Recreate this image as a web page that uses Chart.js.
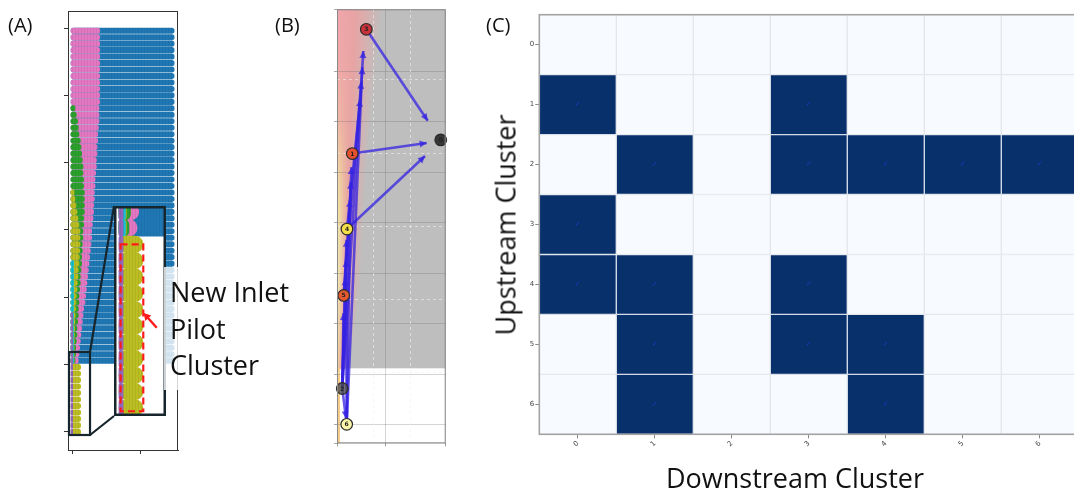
<!DOCTYPE html>
<html>
<head>
<meta charset="utf-8">
<title>Cluster transitions</title>
<script src="https://cdn.jsdelivr.net/npm/chart.js@4.4.1/dist/chart.umd.min.js"></script>
<style>
  html, body { margin:0; padding:0; width:1074px; height:490px; overflow:hidden; background:#fff; }
  .pane { position:absolute; }
  .txt { position:absolute; font-family:'Open Sans', sans-serif; color:#111; white-space:nowrap; }
  .panel-tag { font-size:20px; line-height:20px; }
  .axis-title { font-size:27px; line-height:27px; }
  #note { position:absolute; left:164px; top:267px; width:130px; height:123px; background:rgba(255,255,255,0.8); }
  #note div { position:absolute; left:6px; font-family:'Open Sans', sans-serif; font-size:27px; line-height:27px; color:#111; white-space:nowrap; }
</style>
</head>
<body>
<div class="pane" style="left:0;top:0;width:300px;height:490px"><canvas id="chartA"></canvas></div>
<div class="pane" id="insetBox" style="left:114px;top:206px;width:52px;height:210px"><canvas id="chartInset"></canvas></div>
<div class="pane" style="left:300px;top:0;width:170px;height:490px"><canvas id="chartB"></canvas></div>
<div class="pane" style="left:480px;top:0;width:620px;height:490px"><canvas id="chartC"></canvas></div>

<div class="txt panel-tag" style="left:8px;top:15px">(A)</div>
<div class="txt panel-tag" style="left:275px;top:15px">(B)</div>
<div class="txt panel-tag" style="left:486px;top:15px">(C)</div>
<div class="txt axis-title" style="left:504.7px;top:225px;transform:translate(-50%,-50%) rotate(-90deg)">Upstream Cluster</div>
<div class="txt axis-title" style="left:795px;top:463.5px;transform:translateX(-50%)">Downstream Cluster</div>
<div id="note">
  <div style="top:11px">New Inlet</div>
  <div style="top:47.5px">Pilot</div>
  <div style="top:84px">Cluster</div>
</div>

<script>
Chart.defaults.font.family = "'DejaVu Sans', sans-serif";
Chart.defaults.animation = false;

// ---------------- Panel A: cluster membership along each time step ----------------
// Each row is one time step; each cluster occupies a run of particle positions.
const rows = Array.from({ length: 63 }, (_, i) => i);
const rowStart = -3;                       // left edge of the first particle marker
const yTicksA = [-0.4, 10, 20.4, 30.8, 41.2, 51.6, 62];
const xTicksA = [0, 100];

// right end of each cluster's run, starting at the given first row
const purpleFirst = 44;
const purpleEnd = [-0.5,-0.5,-0.5,-0.5,-0.5,-0.5,-0.5,-0.5,-0.5,-0.5,-0.5,-0.5,-0.5,-0.5,-0.5,-0.5,-0.5,-0.5,-0.5];
const cyanFirst = 36;
const cyanEnd = [1,1,1,1,1,1,1,1,1,1,1,1,1,1,1,1];
const yellowFirst = 25;
const yellowEnd = [1.5,3,4.5,6,7.5,9,10.5,10.5,10.5,10,9.5,9,8,7.5,6.5,6,5,4.5,4,3.5,3,2.5,2,2,1.5,1.5,1.5,
                   11.5,11.5,11.5,11.5,11.5,11.5,11.5,11.5,11.5,11.5,11.5];
const greenFirst = 12;
const greenEnd = [3,5,7,8,9,11,12,13,14,15,15,16,16,17,17,17,17,16,16,15,
                  15,14,14,13,13,12,11,11,10,9,9,8,8,7,6,6,5,4,4,3];
const pinkFirst = 0;
const pinkEnd = [40,40,40,40,40,40,40,40,40,40,40,40,39,39,39,38,37,37,36,36,35,35,34,33,33,32,
                 32,31,31,30,29,28,28,27,26,25,24,23,22,21,20,19,18,16,15,14,13,12,11,10,9,8];
const blueFirst = 0;
const blueEnd = [151,151,151,151,151,151,151,151,151,151,151,151,151,
                 151,151,151,151,151,151,151,151,151,151,151,151,151,
                 151,151,151,151,151,151,151,151,151,151,151,151,151,
                 151,151,151,151,151,151,151,151,151,151,151,151,151];

// zoomed window shown in the inset
const insetX = [-5.97, 25.4];
const insetRows = [49.66, 62.49];
const pilotBoxX = [-2.0, 11.7];
const pilotBoxRows = [52.0, 62.2];
const pilotArrow = { from: [19.8, 57.1], to: [11.9, 56.2] };

function dotted(color) {
  const c = document.createElement('canvas');
  c.width = 3; c.height = 3;
  const g = c.getContext('2d');
  g.fillStyle = color; g.fillRect(0, 0, 3, 3);
  g.fillStyle = 'rgba(0,0,0,0.06)'; g.fillRect(0, 0, 1, 3);
  return g.createPattern(c, 'repeat');
}

function runBars(first, ends) {
  return ends.map((e, k) => ({ y: rows[first + k], x: [rowStart, e] }));
}

function clusterDatasets(thickness) {
  const spec = [
    ['purple', '#9467bd', purpleFirst, purpleEnd],
    ['cyan',   '#17becf', cyanFirst,   cyanEnd],
    ['olive',  '#bcbd22', yellowFirst, yellowEnd],
    ['green',  '#2ca02c', greenFirst,  greenEnd],
    ['pink',   '#e377c2', pinkFirst,   pinkEnd],
    ['blue',   '#1f77b4', blueFirst,   blueEnd]
  ];
  return spec.map(([label, color, first, ends]) => ({
    label,
    data: runBars(first, ends),
    backgroundColor: dotted(color),
    borderWidth: 0,
    borderSkipped: false,
    borderRadius: thickness / 2,
    barThickness: thickness,
    grouped: false
  }));
}

const frameA = {
  id: 'frameA',
  afterDraw(chart) {
    const { ctx, chartArea: a, scales } = chart;
    ctx.save();
    ctx.strokeStyle = '#333'; ctx.lineWidth = 1;
    ctx.strokeRect(a.left + 0.5, a.top + 0.5, a.right - a.left - 1, a.bottom - a.top);
    // region that the inset enlarges
    const x0 = scales.x.getPixelForValue(insetX[0]);
    const x1 = scales.x.getPixelForValue(insetX[1]);
    const y0 = scales.y.getPixelForValue(insetRows[0]);
    const y1 = scales.y.getPixelForValue(insetRows[1]);
    ctx.strokeStyle = '#17252d'; ctx.lineWidth = 2.2;
    ctx.strokeRect(x0, y0, x1 - x0, y1 - y0);
    const box = document.getElementById('insetBox');
    const ix = box.offsetLeft, iy = box.offsetTop, ih = box.offsetHeight;
    ctx.beginPath();
    ctx.moveTo(x1, y0); ctx.lineTo(ix, iy);
    ctx.moveTo(x1, y1); ctx.lineTo(ix, iy + ih);
    ctx.stroke();
    ctx.restore();
  }
};

new Chart(document.getElementById('chartA'), {
  type: 'bar',
  data: { datasets: clusterDatasets(5.4) },
  options: {
    indexAxis: 'y',
    responsive: true, maintainAspectRatio: false,
    layout: { padding: { left: 58, top: 11, right: 122, bottom: 30 } },
    plugins: { legend: { display: false }, tooltip: { enabled: false } },
    scales: {
      x: {
        type: 'linear', min: -7.46, max: 156.7,
        afterBuildTicks: s => { s.ticks = xTicksA.map(v => ({ value: v })); },
        afterFit: s => { s.height = 10; },
        ticks: { display: false },
        grid: { drawOnChartArea: false, tickLength: 4, tickColor: '#333' },
        border: { color: '#333' }
      },
      y: {
        type: 'linear', reverse: true, min: -3.045, max: 64.81, offset: false,
        afterBuildTicks: s => { s.ticks = yTicksA.map(v => ({ value: v })); },
        afterFit: s => { s.width = 10; },
        ticks: { display: false },
        grid: { drawOnChartArea: false, tickLength: 4, tickColor: '#333', offset: false },
        border: { color: '#333' }
      }
    }
  },
  plugins: [frameA]
});

const insetDecor = {
  id: 'insetDecor',
  beforeDraw(chart) {
    const { ctx, width, height } = chart;
    ctx.save(); ctx.fillStyle = '#fff'; ctx.fillRect(0, 0, width, height); ctx.restore();
  },
  afterDatasetsDraw(chart) {
    const { ctx, scales: { x, y } } = chart;
    ctx.save();
    ctx.strokeStyle = '#ff1a1a'; ctx.lineWidth = 2.2; ctx.setLineDash([7, 4]);
    const rx0 = x.getPixelForValue(pilotBoxX[0]), rx1 = x.getPixelForValue(pilotBoxX[1]);
    const ry0 = y.getPixelForValue(pilotBoxRows[0]), ry1 = y.getPixelForValue(pilotBoxRows[1]);
    ctx.strokeRect(rx0, ry0, rx1 - rx0, ry1 - ry0);
    ctx.setLineDash([]);
    const ax0 = x.getPixelForValue(pilotArrow.from[0]), ay0 = y.getPixelForValue(pilotArrow.from[1]);
    const ax1 = x.getPixelForValue(pilotArrow.to[0]), ay1 = y.getPixelForValue(pilotArrow.to[1]);
    const ang = Math.atan2(ay1 - ay0, ax1 - ax0);
    ctx.lineWidth = 2.4;
    ctx.beginPath(); ctx.moveTo(ax0, ay0);
    ctx.lineTo(ax1 - 4 * Math.cos(ang), ay1 - 4 * Math.sin(ang)); ctx.stroke();
    ctx.fillStyle = '#ff1a1a';
    ctx.beginPath();
    ctx.moveTo(ax1, ay1);
    ctx.lineTo(ax1 - 7 * Math.cos(ang) + 4 * Math.sin(ang), ay1 - 7 * Math.sin(ang) - 4 * Math.cos(ang));
    ctx.lineTo(ax1 - 7 * Math.cos(ang) - 4 * Math.sin(ang), ay1 - 7 * Math.sin(ang) + 4 * Math.cos(ang));
    ctx.closePath(); ctx.fill();
    ctx.restore();
  },
  afterDraw(chart) {
    const { ctx, width, height } = chart;
    ctx.save(); ctx.strokeStyle = '#17252d'; ctx.lineWidth = 2.5;
    ctx.strokeRect(1.25, 1.25, width - 2.5, height - 2.5); ctx.restore();
  }
};

new Chart(document.getElementById('chartInset'), {
  type: 'bar',
  data: { datasets: clusterDatasets(16.5) },
  options: {
    indexAxis: 'y',
    responsive: true, maintainAspectRatio: false,
    layout: { padding: 0 },
    plugins: { legend: { display: false }, tooltip: { enabled: false } },
    scales: {
      x: { type: 'linear', min: insetX[0], max: insetX[1], display: false },
      y: { type: 'linear', reverse: true, min: insetRows[0], max: insetRows[1], offset: false, display: false }
    }
  },
  plugins: [insetDecor]
});

// ---------------- Panel B: cluster transition graph ----------------
const nodeIds = ['0', '1', '2', '3', '4', '5', '6'];
const nodeX = [2.19, 0.267, 0.05, 0.572, 0.152, 0.08, 0.146];
const nodeY = [5.64, 5.37, 0.717, 7.83, 3.875, 2.56, 0.008];
const nodeColors = ['#363636', '#e5502e', 'rgba(75,75,75,0.8)', '#c8323a', '#f3df48', '#e45a30', '#fbf6a8'];
// transitions: source node and arrow tip
const edgeFrom = [3, 1, 4, 2, 6, 5, 4, 2, 6, 5, 2, 6, 2, 2, 2];
const edgeTipX = [1.907, 1.885, 1.848, 0.507, 0.485, 0.463, 0.441, 0.25, 0.233, 0.217, 0.141, 0.13, 0.115, 0.076, 0.13];
const edgeTipY = [6.02, 5.58, 5.32, 7.40, 7.08, 6.79, 6.44, 5.10, 4.81, 4.45, 3.66, 3.26, 2.90, 2.21, 0.13];
const shadedTop = 1.117;          // upper shaded field ends here
const dashedX = [0.724, 1.537];
const dashedY = [1.03, 2.48, 3.92, 5.37, 6.83];
// warm glow along the left edge: [y, left colour, band width px]
const glowStops = [
  [8.226, [255, 160, 168], 46],
  [7.22,  [255, 165, 165], 40],
  [6.03,  [255, 185, 160], 34],
  [5.04,  [255, 225, 150], 30],
  [4.05,  [255, 250, 160], 27],
  [2.86,  [255, 252, 175], 24],
  [1.87,  [255, 240, 160], 18],
  [1.117, [255, 220, 140], 12]
];

const fieldB = {
  id: 'fieldB',
  beforeDraw(chart) {
    const { ctx, chartArea: a, scales: { y } } = chart;
    ctx.save();
    ctx.fillStyle = '#fff';
    ctx.fillRect(a.left, a.top, a.right - a.left, a.bottom - a.top);
    const yb = y.getPixelForValue(shadedTop);
    ctx.fillStyle = '#bebebe';
    ctx.fillRect(a.left, a.top, a.right - a.left, yb - a.top);
    const px = glowStops.map(s => y.getPixelForValue(s[0]));
    for (let py = a.top; py < yb; py += 1) {
      let k = 0;
      while (k < px.length - 2 && py > px[k + 1]) k++;
      const t = Math.min(1, Math.max(0, (py - px[k]) / (px[k + 1] - px[k])));
      const c = glowStops[k][1].map((v, j) => Math.round(v + (glowStops[k + 1][1][j] - v) * t));
      const w = glowStops[k][2] + (glowStops[k + 1][2] - glowStops[k][2]) * t;
      const g = ctx.createLinearGradient(a.left, 0, a.left + w, 0);
      g.addColorStop(0, `rgb(${c[0]},${c[1]},${c[2]})`);
      g.addColorStop(0.4, 'rgba(252,150,150,0.8)');
      g.addColorStop(1, 'rgba(250,160,160,0)');
      ctx.fillStyle = g;
      ctx.fillRect(a.left, py, w, 1);
    }
    ctx.fillStyle = 'rgba(245,200,125,0.9)';
    ctx.fillRect(a.left, yb, 3, a.bottom - yb);
    ctx.restore();
  },
  afterDatasetDraw(chart, args) {
    const ds = chart.data.datasets[args.index];
    if (!ds.isEdge) return;
    const pts = args.meta.data;
    const p0 = pts[0], p1 = pts[1];
    const ang = Math.atan2(p1.y - p0.y, p1.x - p0.x);
    const { ctx } = chart;
    ctx.save();
    ctx.fillStyle = ds.borderColor;
    ctx.beginPath();
    ctx.moveTo(p1.x, p1.y);
    ctx.lineTo(p1.x - 7 * Math.cos(ang) + 3.5 * Math.sin(ang), p1.y - 7 * Math.sin(ang) - 3.5 * Math.cos(ang));
    ctx.lineTo(p1.x - 7 * Math.cos(ang) - 3.5 * Math.sin(ang), p1.y - 7 * Math.sin(ang) + 3.5 * Math.cos(ang));
    ctx.closePath(); ctx.fill();
    ctx.restore();
  },
  afterDatasetsDraw(chart) {
    const { ctx } = chart;
    const nodesIdx = chart.data.datasets.findIndex(d => d.isNode);
    const meta = chart.getDatasetMeta(nodesIdx);
    ctx.save();
    ctx.font = '600 6px "DejaVu Sans"';
    ctx.fillStyle = '#222'; ctx.textAlign = 'center'; ctx.textBaseline = 'middle';
    meta.data.forEach((p, i) => ctx.fillText(nodeIds[i], p.x, p.y + 0.5));
    ctx.restore();
  },
  afterDraw(chart) {
    const { ctx, chartArea: a } = chart;
    ctx.save(); ctx.strokeStyle = '#8a8a8a'; ctx.lineWidth = 1;
    ctx.strokeRect(a.left + 0.5, a.top + 0.5, a.right - a.left - 1, a.bottom - a.top - 1);
    ctx.restore();
  }
};

const edgeSets = edgeFrom.map((f, i) => ({
  isEdge: true,
  data: [{ x: nodeX[f], y: nodeY[f] }, { x: edgeTipX[i], y: edgeTipY[i] }],
  showLine: true, pointRadius: 0,
  borderColor: 'rgba(52,34,225,0.75)', borderWidth: 2.6,
  order: 1
}));

new Chart(document.getElementById('chartB'), {
  type: 'scatter',
  data: {
    datasets: [
      ...edgeSets,
      {
        isNode: true,
        data: nodeX.map((x, i) => ({ x, y: nodeY[i] })),
        backgroundColor: nodeColors, borderColor: '#2a2a2a', borderWidth: 1.2,
        pointRadius: 5.8, order: 0, clip: false
      }
    ]
  },
  options: {
    responsive: true, maintainAspectRatio: false,
    layout: { padding: { left: 0, top: 9.3, right: 24.3, bottom: 0 } },
    plugins: { legend: { display: false }, tooltip: { enabled: false } },
    scales: {
      x: {
        type: 'linear', min: -0.065, max: 2.298,
        ticks: { stepSize: 1, display: false },
        afterFit: s => { s.height = 46.7; },
        grid: { color: 'rgba(100,100,100,0.28)', tickLength: 3, tickColor: '#999' },
        border: { display: false }
      },
      y: {
        type: 'linear', min: -0.368, max: 8.226,
        ticks: { stepSize: 1, display: false },
        afterFit: s => { s.width = 37; },
        grid: { color: 'rgba(100,100,100,0.28)', tickLength: 3, tickColor: '#aaa' },
        border: { display: false }
      },
      x2: {
        type: 'linear', position: 'top', min: -0.065, max: 2.298,
        afterBuildTicks: s => { s.ticks = dashedX.map(v => ({ value: v })); },
        afterFit: s => { s.height = 0; },
        ticks: { display: false },
        grid: { color: 'rgba(240,240,240,0.6)', drawTicks: false },
        border: { display: false, dash: [3, 3] }
      },
      y2: {
        type: 'linear', position: 'right', min: -0.368, max: 8.226,
        afterBuildTicks: s => { s.ticks = dashedY.map(v => ({ value: v })); },
        afterFit: s => { s.width = 0; },
        ticks: { display: false },
        grid: { color: 'rgba(240,240,240,0.6)', drawTicks: false },
        border: { display: false, dash: [3, 3] }
      }
    }
  },
  plugins: [fieldB]
});

// ---------------- Panel C: upstream -> downstream links ----------------
const downstream = ['0', '1', '2', '3', '4', '5', '6'];
const upstream = ['0', '1', '2', '3', '4', '5', '6'];
const linkMatrix = [
  [0, 0, 0, 0, 0, 0, 0],
  [1, 0, 0, 1, 0, 0, 0],
  [0, 1, 0, 1, 1, 1, 1],
  [1, 0, 0, 0, 0, 0, 0],
  [1, 1, 0, 1, 0, 0, 0],
  [0, 1, 0, 1, 1, 0, 0],
  [0, 1, 0, 0, 1, 0, 0]
];
const linkOn = '#08306b', linkOff = '#f7fbff';

const cellsC = {
  id: 'cellsC',
  afterDatasetsDraw(chart) {
    const { ctx, scales: { x, y } } = chart;
    ctx.save();
    ctx.font = '7px "DejaVu Sans"'; ctx.fillStyle = '#1c3cc0';
    ctx.textAlign = 'center'; ctx.textBaseline = 'middle';
    linkMatrix.forEach((row, r) => row.forEach((v, c) => {
      if (v) ctx.fillText('\u2713', x.getPixelForValue(c), y.getPixelForValue(r));
    }));
    ctx.restore();
  },
  afterDraw(chart) {
    const { ctx, chartArea: a } = chart;
    ctx.save(); ctx.strokeStyle = '#a3a3a3'; ctx.lineWidth = 1.6;
    ctx.strokeRect(a.left, a.top, a.right - a.left, a.bottom - a.top);
    ctx.restore();
  }
};

new Chart(document.getElementById('chartC'), {
  type: 'bar',
  data: {
    labels: downstream,
    datasets: upstream.map((u, r) => ({
      label: u,
      data: linkMatrix[r].map(() => [r - 0.5, r + 0.5]),
      backgroundColor: linkMatrix[r].map(v => v ? linkOn : linkOff),
      borderColor: linkMatrix[r].map(v => v ? 'rgba(160,180,205,0.35)' : '#e4e8ed'),
      borderWidth: 1,
      borderSkipped: false,
      barPercentage: 1, categoryPercentage: 1,
      grouped: false
    }))
  },
  options: {
    responsive: true, maintainAspectRatio: false,
    layout: { padding: { left: 0, top: 14.7, right: 21.7, bottom: 0 } },
    plugins: { legend: { display: false }, tooltip: { enabled: false } },
    scales: {
      x: {
        offset: true,
        afterFit: s => { s.height = 55.7; },
        ticks: { font: { size: 7 }, color: '#444', minRotation: 45, maxRotation: 45, padding: 1 },
        grid: { drawOnChartArea: false, tickLength: 4, tickColor: '#888', offset: false },
        border: { display: false }
      },
      y: {
        type: 'linear', reverse: true, min: -0.5, max: 6.5,
        afterBuildTicks: s => { s.ticks = upstream.map((_, i) => ({ value: i })); },
        afterFit: s => { s.width = 59.3; },
        ticks: { font: { size: 7 }, color: '#444', padding: 1, callback: v => upstream[v] },
        grid: { drawOnChartArea: false, tickLength: 4, tickColor: '#888' },
        border: { display: false }
      }
    }
  },
  plugins: [cellsC]
});
</script>
</body>
</html>
